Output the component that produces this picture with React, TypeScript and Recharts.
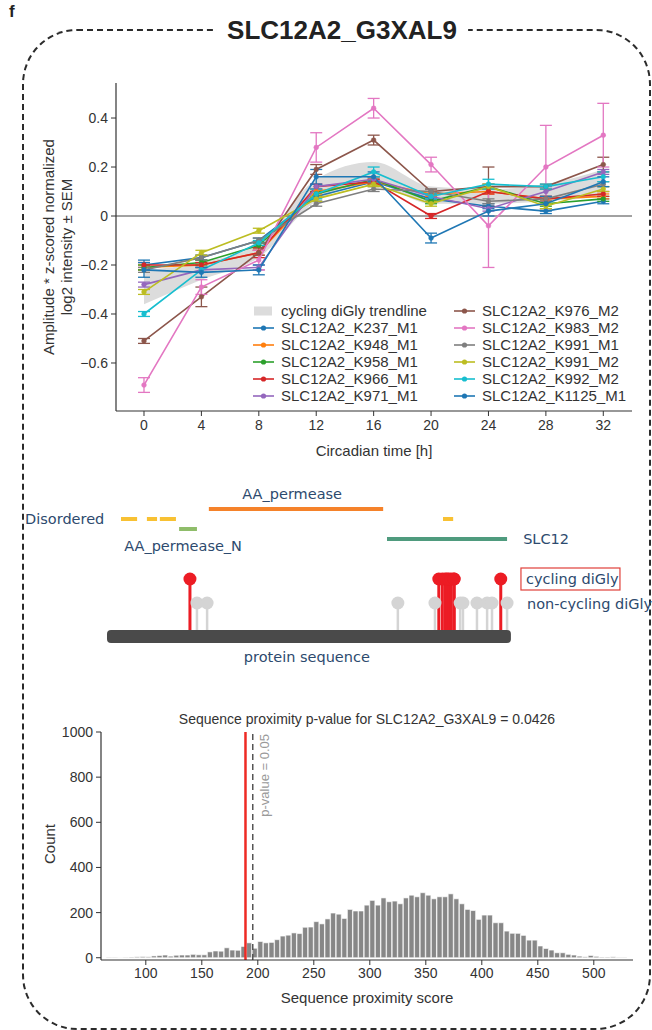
import React from 'react';
import {
  ComposedChart, Line, Area, XAxis, YAxis, ErrorBar, ReferenceLine, Legend,
  Scatter, ReferenceArea, Bar,
} from 'recharts';

const FONT = '"Liberation Sans", Arial, Helvetica, sans-serif';
const LFONT = '"DejaVu Sans", Verdana, sans-serif';
const INK = '#333333';

// ---------------- Panel 1: circadian time course ----------------
const times = [0, 4, 8, 12, 16, 20, 24, 28, 32];
const timeTicks = [0, 4, 8, 12, 16, 20, 24, 28, 32];
const ampTicks = [-0.6, -0.4, -0.2, 0, 0.2, 0.4];

const trendLow = [-0.36, -0.26, -0.17, 0.06, 0.13, 0.05, 0.05, 0.06, 0.08];
const trendHigh = [-0.22, -0.19, -0.11, 0.15, 0.22, 0.12, 0.11, 0.13, 0.19];

const k237M1 = [-0.20, -0.17, -0.10, 0.08, 0.14, 0.07, 0.04, 0.02, 0.06];
const k237M1Sem = [0.02, 0.01, 0.01, 0.02, 0.01, 0.01, 0.01, 0.01, 0.01];
const k948M1 = [-0.21, -0.20, -0.15, 0.10, 0.14, 0.09, 0.10, 0.07, 0.08];
const k948M1Sem = [0.01, 0.01, 0.01, 0.01, 0.01, 0.01, 0.01, 0.01, 0.01];
const k958M1 = [-0.21, -0.19, -0.12, 0.09, 0.15, 0.06, 0.12, 0.05, 0.07];
const k958M1Sem = [0.01, 0.01, 0.01, 0.01, 0.01, 0.01, 0.01, 0.01, 0.01];
const k966M1 = [-0.20, -0.20, -0.15, 0.12, 0.14, 0.00, 0.10, 0.07, 0.09];
const k966M1Sem = [0.01, 0.01, 0.02, 0.01, 0.01, 0.01, 0.01, 0.01, 0.01];
const k971M1 = [-0.28, -0.22, -0.21, 0.12, 0.15, 0.08, 0.03, 0.10, 0.18];
const k971M1Sem = [0.01, 0.01, 0.01, 0.01, 0.01, 0.01, 0.01, 0.02, 0.01];
const k976M2 = [-0.51, -0.33, -0.15, 0.19, 0.31, 0.10, 0.12, 0.12, 0.21];
const k976M2Sem = [0.01, 0.04, 0.01, 0.02, 0.02, 0.01, 0.08, 0.01, 0.03];
const k983M2 = [-0.69, -0.29, -0.18, 0.28, 0.44, 0.21, -0.04, 0.20, 0.33];
const k983M2Sem = [0.03, 0.03, 0.04, 0.06, 0.04, 0.03, 0.17, 0.17, 0.13];
const k991M1 = [-0.22, -0.17, -0.10, 0.05, 0.11, 0.10, 0.06, 0.07, 0.13];
const k991M1Sem = [0.01, 0.01, 0.01, 0.01, 0.01, 0.01, 0.01, 0.01, 0.01];
const k991M2 = [-0.31, -0.15, -0.06, 0.07, 0.13, 0.05, 0.12, 0.04, 0.11];
const k991M2Sem = [0.01, 0.01, 0.01, 0.01, 0.01, 0.01, 0.01, 0.01, 0.01];
const k992M2 = [-0.40, -0.22, -0.11, 0.09, 0.18, 0.08, 0.13, 0.12, 0.16];
const k992M2Sem = [0.01, 0.01, 0.01, 0.02, 0.02, 0.01, 0.02, 0.01, 0.02];
const k1125M1 = [-0.22, -0.23, -0.22, 0.16, 0.16, -0.09, 0.02, 0.05, 0.14];
const k1125M1Sem = [0.03, 0.02, 0.02, 0.03, 0.02, 0.02, 0.02, 0.03, 0.02];

const seriesNames = [
  'SLC12A2_K237_M1', 'SLC12A2_K948_M1', 'SLC12A2_K958_M1', 'SLC12A2_K966_M1',
  'SLC12A2_K971_M1', 'SLC12A2_K976_M2', 'SLC12A2_K983_M2', 'SLC12A2_K991_M1',
  'SLC12A2_K991_M2', 'SLC12A2_K992_M2', 'SLC12A2_K1125_M1',
];
const seriesColors = [
  '#1f77b4', '#ff7f0e', '#2ca02c', '#d62728', '#9467bd', '#8c564b',
  '#e377c2', '#7f7f7f', '#bcbd22', '#17becf', '#1f77b4',
];
const seriesValues = [k237M1, k948M1, k958M1, k966M1, k971M1, k976M2, k983M2, k991M1, k991M2, k992M2, k1125M1];
const seriesSems = [k237M1Sem, k948M1Sem, k958M1Sem, k966M1Sem, k971M1Sem, k976M2Sem, k983M2Sem, k991M1Sem, k991M2Sem, k992M2Sem, k1125M1Sem];
const trendName = 'cycling diGly trendline';

const timeRows = times.map((t, i) => {
  const row: any = { t, band: [trendLow[i], trendHigh[i]] };
  seriesNames.forEach((n, j) => {
    row[n] = seriesValues[j][i];
    row[n + '_e'] = seriesSems[j][i];
  });
  return row;
});

// ---------------- Panel 2: protein sequence ----------------
const proteinLength = 1154;
const cyclingSites = [237, 948, 958, 966, 971, 976, 983, 991, 992, 1125];
const nonCyclingSites = [257, 286, 831, 937, 1009, 1017, 1057, 1086, 1100, 1143];
const disorderedRegions = [[40, 86], [114, 143], [151, 197], [960, 989]];
const aaPermease = [291, 789];
const aaPermeaseN = [206, 257];
const slc12 = [800, 1143];
const proteinLabels = [
  { x: 529, y: 24, text: 'AA_permease', anchor: 'middle', box: false },
  { x: -234, y: 49, text: 'Disordered', anchor: 'start', box: false },
  { x: 49, y: 76, text: 'AA_permease_N', anchor: 'start', box: false },
  { x: 1189, y: 69, text: 'SLC12', anchor: 'start', box: false },
  { x: 1197, y: 109, text: 'cycling diGly', anchor: 'start', box: true },
  { x: 1200, y: 134, text: 'non-cycling diGly', anchor: 'start', box: false },
  { x: 571, y: 187, text: 'protein sequence', anchor: 'middle', box: false },
];

// ---------------- Panel 3: histogram ----------------
const binStarts = [
  65, 70, 75, 80, 85, 90, 95, 100, 105, 110, 115, 120, 125, 130, 135, 140, 145, 150,
  155, 160, 165, 170, 175, 180, 185, 190, 195, 200, 205, 210, 215, 220, 225, 230, 235,
  240, 245, 250, 255, 260, 265, 270, 275, 280, 285, 290, 295, 300, 305, 310, 315, 320,
  325, 330, 335, 340, 345, 350, 355, 360, 365, 370, 375, 380, 385, 390, 395, 400, 405,
  410, 415, 420, 425, 430, 435, 440, 445, 450, 455, 460, 465, 470, 475, 480, 485, 490,
  495, 500, 505, 510, 515, 520, 525,
];
const binCounts = [
  2, 2, 1, 2, 3, 4, 5, 4, 8, 10, 12, 7, 11, 12, 12, 15, 13, 13,
  26, 30, 29, 44, 34, 33, 50, 66, 42, 72, 66, 68, 80, 96, 100, 110, 107,
  135, 136, 160, 150, 172, 198, 193, 174, 214, 207, 207, 233, 254, 233, 265, 248, 251,
  239, 265, 277, 270, 288, 277, 261, 270, 270, 283, 261, 239, 214, 209, 170, 189, 189,
  155, 155, 118, 108, 108, 99, 78, 78, 52, 41, 34, 22, 22, 15, 12, 7, 4,
  10, 6, 3, 3, 4, 2, 2,
];
const binWidth = 5;
const scoreTicks = [100, 150, 200, 250, 300, 350, 400, 450, 500];
const countTicks = [0, 200, 400, 600, 800, 1000];
const observedScore = 189;
const thresholdScore = 195.5;
const histRows = binStarts.map((b, i) => ({ x: b + binWidth / 2, count: binCounts[i] }));

const fmtAmp = (v: number) => (v === 0 ? '0' : v.toFixed(1).replace('-', '\u2212'));

const tickStyle = { fontSize: 14, fill: INK, fontFamily: FONT };
const axisStyle = { stroke: INK, strokeWidth: 1.2 };

const TimeLegend = () => {
  const item = (name: string, color: string, trend: boolean) => (
    <div key={name} style={{ display: 'flex', alignItems: 'center', height: 17 }}>
      <svg width={21} height={12} style={{ marginRight: 7 }}>
        {trend ? (
          <rect x={1} y={1.5} width={18} height={9} fill="#dcdcdc" />
        ) : (
          <g>
            <line x1={0} y1={6} x2={21} y2={6} stroke={color} strokeWidth={1.6} />
            <circle cx={10.5} cy={6} r={2.6} fill={color} />
          </g>
        )}
      </svg>
      <span>{name}</span>
    </div>
  );
  return (
    <div style={{ display: 'flex', fontFamily: FONT, fontSize: 15, color: INK, lineHeight: '17px', whiteSpace: 'nowrap' }}>
      <div style={{ width: 201 }}>
        {item(trendName, '#dcdcdc', true)}
        {seriesNames.slice(0, 5).map((n, j) => item(n, seriesColors[j], false))}
      </div>
      <div>
        {seriesNames.slice(5).map((n, j) => item(n, seriesColors[j + 5], false))}
      </div>
    </div>
  );
};

const TimeChart = () => (
  <ComposedChart width={652} height={470} data={timeRows} margin={{ top: 83, right: 20, left: 56, bottom: 9 }}>
    <XAxis
      dataKey="t" type="number" domain={[-1.95, 34]} ticks={timeTicks} allowDataOverflow
      axisLine={axisStyle} tickLine={{ stroke: INK }} tickSize={5} tickMargin={4}
      tick={tickStyle} height={50}
      label={{
        content: (p: any) => {
          const vb = p.viewBox;
          return (
            <text x={vb.x + vb.width / 2} y={vb.y + 39} textAnchor="middle" dominantBaseline="central"
              style={{ fontSize: 15, fill: INK, fontFamily: FONT }}>Circadian time [h]</text>
          );
        },
      }}
    />
    <YAxis
      type="number" domain={[-0.796, 0.543]} ticks={ampTicks} allowDataOverflow tickFormatter={fmtAmp}
      axisLine={axisStyle} tickLine={{ stroke: INK }} tickSize={5} tickMargin={3}
      tick={tickStyle} width={60}
      label={{
        content: (p: any) => {
          const vb = p.viewBox;
          const cy = vb.y + vb.height / 2;
          const x1 = vb.x - 8;
          const x2 = vb.x + 10;
          return (
            <g style={{ fontSize: 15, fill: INK, fontFamily: FONT }}>
              <text x={x1} y={cy} transform={`rotate(-90, ${x1}, ${cy})`} textAnchor="middle" dominantBaseline="central">Amplitude * z-scored normalized</text>
              <text x={x2} y={cy} transform={`rotate(-90, ${x2}, ${cy})`} textAnchor="middle" dominantBaseline="central">log2 intensity ± SEM</text>
            </g>
          );
        },
      }}
    />
    <Area dataKey="band" type="monotone" fill="#dcdcdc" fillOpacity={1} stroke="none" isAnimationActive={false} activeDot={false} legendType="none" />
    <ReferenceLine y={0} stroke="#444" strokeWidth={1} />
    {seriesNames.map((n, j) => (
      <Line key={n} dataKey={n} type="linear" stroke={seriesColors[j]} strokeWidth={1.6}
        dot={{ r: 2.4, fill: seriesColors[j], stroke: seriesColors[j], strokeWidth: 0.5 }}
        activeDot={false} isAnimationActive={false}>
        <ErrorBar dataKey={n + '_e'} width={6} stroke={seriesColors[j]} strokeWidth={1.3} direction="y" />
      </Line>
    ))}
    <Legend layout="vertical" align="center" verticalAlign="middle" content={() => <TimeLegend />}
      wrapperStyle={{ left: 253, top: 302, width: 390, height: 105 }} />
  </ComposedChart>
);

const ProteinChart = () => (
  <ComposedChart width={652} height={210} margin={{ top: 0, right: 0, left: 0, bottom: 0 }}>
    <XAxis type="number" dataKey="x" hide domain={[-305.7, 1557.1]} allowDataOverflow />
    <YAxis type="number" dataKey="y" hide domain={[0, 210]} reversed allowDataOverflow />
    <ReferenceArea x1={0} x2={proteinLength} y1={160} y2={173} fill="#4a4a4a" fillOpacity={1} stroke="none" radius={4} ifOverflow="visible" />
    <ReferenceLine segment={[{ x: aaPermease[0], y: 39 }, { x: aaPermease[1], y: 39 }]} stroke="#f5822a" strokeWidth={4} ifOverflow="visible" />
    {disorderedRegions.map((r, i) => (
      <ReferenceLine key={'d' + i} segment={[{ x: r[0], y: 49 }, { x: r[1], y: 49 }]} stroke="#f8c133" strokeWidth={4} ifOverflow="visible" />
    ))}
    <ReferenceLine segment={[{ x: aaPermeaseN[0], y: 59 }, { x: aaPermeaseN[1], y: 59 }]} stroke="#8fbd6a" strokeWidth={4} ifOverflow="visible" />
    <ReferenceLine segment={[{ x: slc12[0], y: 69 }, { x: slc12[1], y: 69 }]} stroke="#4f9b7e" strokeWidth={4} ifOverflow="visible" />
    {nonCyclingSites.map((s) => (
      <ReferenceLine key={'g' + s} segment={[{ x: s, y: 133 }, { x: s, y: 160 }]} stroke="#d4d4d4" strokeWidth={2.5} ifOverflow="visible" />
    ))}
    <Scatter data={nonCyclingSites.map((s) => ({ x: s, y: 133 }))} isAnimationActive={false} legendType="none"
      shape={(p: any) => <circle cx={p.cx} cy={p.cy} r={6.5} fill="#d4d4d4" />} />
    {cyclingSites.map((s) => (
      <ReferenceLine key={'r' + s} segment={[{ x: s, y: 109 }, { x: s, y: 160 }]} stroke="#ec1c24" strokeWidth={3} ifOverflow="visible" />
    ))}
    <Scatter data={cyclingSites.map((s) => ({ x: s, y: 109 }))} isAnimationActive={false} legendType="none"
      shape={(p: any) => <circle cx={p.cx} cy={p.cy} r={6.5} fill="#ec1c24" />} />
    <Scatter data={proteinLabels} isAnimationActive={false} legendType="none"
      shape={(p: any) => (
        <g>
          {p.payload.box ? <rect x={p.cx - 5} y={p.cy - 11} width={99} height={22} fill="none" stroke="#e0403a" strokeWidth={1.2} /> : null}
          <text x={p.cx} y={p.cy} textAnchor={p.payload.anchor} dominantBaseline="central"
            style={{ fontSize: 14.5, fill: '#2d4a6e', fontFamily: LFONT }}>{p.payload.text}</text>
        </g>
      )} />
  </ComposedChart>
);

const HistChart = () => (
  <ComposedChart width={652} height={330} data={histRows} margin={{ top: 32, right: 19, left: 51, bottom: 40 }} barCategoryGap={0} barGap={0}>
    <XAxis
      dataKey="x" type="number" domain={[60, 535]} ticks={scoreTicks} allowDataOverflow
      axisLine={axisStyle} tickLine={{ stroke: INK }} tickSize={5} tickMargin={3} tick={tickStyle} height={30}
      label={{
        content: (p: any) => {
          const vb = p.viewBox;
          return (
            <text x={vb.x + vb.width / 2} y={vb.y + 37} textAnchor="middle" dominantBaseline="central"
              style={{ fontSize: 15, fill: INK, fontFamily: FONT }}>Sequence proximity score</text>
          );
        },
      }}
    />
    <YAxis
      type="number" domain={[-10, 1000]} ticks={countTicks} allowDataOverflow
      axisLine={axisStyle} tickLine={{ stroke: INK }} tickSize={5} tickMargin={3} tick={tickStyle} width={50}
      label={{
        content: (p: any) => {
          const vb = p.viewBox;
          const cy = vb.y + vb.height / 2 - 2;
          const x = vb.x - 2;
          return (
            <text x={x} y={cy} transform={`rotate(-90, ${x}, ${cy})`} textAnchor="middle" dominantBaseline="central"
              style={{ fontSize: 15, fill: INK, fontFamily: FONT }}>Count</text>
          );
        },
      }}
    />
    <Bar dataKey="count" fill="#878787" stroke="#ffffff" strokeWidth={0.6} barSize={5.6} isAnimationActive={false} />
    <ReferenceLine x={observedScore} stroke="#ee2a24" strokeWidth={2.5} />
    <ReferenceLine x={thresholdScore} stroke="#555" strokeWidth={1.5} strokeDasharray="6 4"
      label={{
        content: (p: any) => {
          const vb = p.viewBox;
          const x = vb.x + 12;
          const y = vb.y + 2;
          return (
            <text x={x} y={y} transform={`rotate(-90, ${x}, ${y})`} textAnchor="end" dominantBaseline="central"
              style={{ fontSize: 13, fill: '#9a9a9a', fontFamily: FONT }}>p-value = 0.05</text>
          );
        },
      }}
    />
  </ComposedChart>
);

export default function App() {
  return (
    <div style={{ position: 'absolute', left: 0, top: 0, width: 652, height: 1030, background: '#fff', overflow: 'hidden', fontFamily: FONT }}>
      <div style={{ position: 'absolute', left: 22, top: 29, width: 629, height: 1001, boxSizing: 'border-box', border: '2px dashed #2b2b2b', borderRadius: 55 }} />
      <div style={{ position: 'absolute', left: 9, top: 2, fontSize: 17, fontWeight: 'bold', color: '#222' }}>f</div>
      <div style={{ position: 'absolute', left: 342, top: 15, transform: 'translateX(-50%)', background: '#fff', padding: '0 11px', fontSize: 26, fontWeight: 'bold', color: '#222', lineHeight: '30px', whiteSpace: 'nowrap' }}>SLC12A2_G3XAL9</div>
      <div style={{ position: 'absolute', left: 0, top: 0 }}><TimeChart /></div>
      <div style={{ position: 'absolute', left: 0, top: 470 }}><ProteinChart /></div>
      <div style={{ position: 'absolute', left: 101, top: 711, width: 532, textAlign: 'center', fontSize: 14, color: INK, whiteSpace: 'nowrap' }}>
        Sequence proximity p-value for SLC12A2_G3XAL9 = 0.0426
      </div>
      <div style={{ position: 'absolute', left: 0, top: 700 }}><HistChart /></div>
    </div>
  );
}
